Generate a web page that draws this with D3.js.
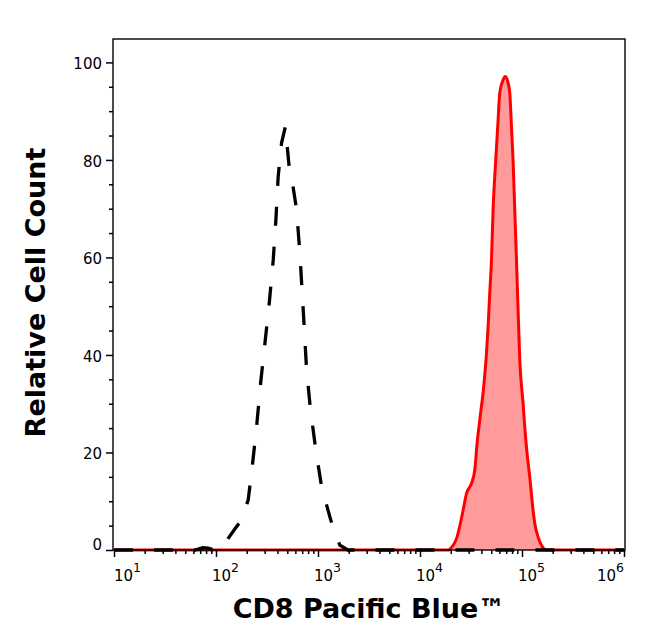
<!DOCTYPE html>
<html>
<head>
<meta charset="utf-8">
<script src="https://cdn.jsdelivr.net/npm/d3@7"></script>
<style>
  html, body { margin: 0; padding: 0; background: #fff; }
  svg { display: block; }
</style>
</head>
<body>
<svg id="chart" width="646" height="641"></svg>
<script>
// ---- data ----
const xTitle = "CD8 Pacific Blue™";
const yTitle = "Relative Cell Count";
const xTickExponents = [1, 2, 3, 4, 5, 6];
const yTickValues = [0, 20, 40, 60, 80, 100];

// Isotype control (black dashed)
const controlX = [10, 62, 74.5, 83.4, 98, 114, 131.8, 153, 178, 207, 228.6, 250, 273.7, 301.7, 332.6, 364, 386.5, 407, 439.5, 478.6, 519, 555, 616.6, 664, 716, 773, 845, 952, 1084, 1307, 1441, 1638, 1962, 1000000];
const controlY = [0, 0, 0.5, 0.4, 0, 0.3, 2.4, 4.3, 6.2, 10.3, 17.8, 25.3, 34.2, 42.4, 50.6, 59.5, 67.7, 76.6, 83.5, 86.8, 79, 76, 69.8, 60.9, 49.3, 36.9, 28.7, 20.5, 13, 6.8, 3.8, 1, 0, 0];

// CD8 stained (red filled)
const stainedX = [10, 19000, 19900, 23100, 26100, 28600, 32000, 34440, 36300, 38550, 41500, 44860, 46500, 48310, 50200, 52060, 55300, 58290, 60500, 65230, 68800, 73030, 75900, 78820, 81700, 84920, 88300, 91500, 95100, 102400, 106400, 112100, 119100, 128300, 133300, 143700, 151600, 173600, 1000000];
const stainedY = [0, 0, 0.3, 2.7, 7.5, 11.6, 13.7, 16.4, 21.9, 26.7, 32.2, 40.4, 45.8, 52.7, 59.5, 69.8, 80, 88.2, 93.7, 96.4, 97.1, 95.8, 93.7, 86.9, 80, 69.8, 59.5, 49.3, 39, 30.1, 25.3, 19.8, 15, 8.2, 5.5, 2.7, 1.4, 0, 0];

// ---- layout ----
const pL = 113, pR = 625, pT = 39, pB = 550;
const svg = d3.select("#chart");

const x = d3.scaleLog().domain([10, 1e6]).range([114, 624]);
const y = d3.scaleLinear().domain([0, 104.8]).range([pB, pT]);

const control = controlX.map((v, i) => ({x: v, y: controlY[i]}));
const stained = stainedX.map((v, i) => ({x: v, y: stainedY[i]}));

svg.append("clipPath").attr("id", "plotclip")
  .append("rect").attr("x", pL).attr("y", pT - 5).attr("width", pR - pL).attr("height", pB - pT + 8);

const plot = svg.append("g").attr("clip-path", "url(#plotclip)");

const area = d3.area().x(d => x(d.x)).y0(y(0)).y1(d => y(d.y)).curve(d3.curveMonotoneX);
const lineM = d3.line().x(d => x(d.x)).y(d => y(d.y)).curve(d3.curveMonotoneX);
const lineL = d3.line().x(d => x(d.x)).y(d => y(d.y)).curve(d3.curveLinear);

plot.append("path").datum(stained).attr("d", area).attr("fill", "#ff9b9b").attr("stroke", "none");
plot.append("path").datum(stained).attr("d", lineM).attr("fill", "none").attr("stroke", "#ff0000").attr("stroke-width", 3).attr("stroke-linejoin", "round");
plot.append("path").datum(control).attr("d", lineL).attr("fill", "none").attr("stroke", "#000")
  .attr("stroke-width", 3.3).attr("stroke-dasharray", "19,21").attr("stroke-linejoin", "miter").attr("stroke-miterlimit", 10);

// ---- frame ----
svg.append("rect").attr("x", pL).attr("y", pT).attr("width", pR - pL).attr("height", pB - pT)
  .attr("fill", "none").attr("stroke", "#000").attr("stroke-width", 1.4);

// ---- y axis ----
const yMinor = d3.range(0, 105, 5).filter(v => v % 20 !== 0);
const yAxis = svg.append("g").attr("transform", `translate(${pL},0)`);
yAxis.call(d3.axisLeft(y).tickValues(yMinor).tickSize(4).tickFormat(""));
yAxis.call(g => g.select(".domain").remove());
const yMaj = svg.append("g").attr("transform", `translate(${pL},0)`)
  .call(d3.axisLeft(y).tickValues(yTickValues).tickSize(7).tickPadding(4));
yMaj.select(".domain").remove();
yMaj.selectAll("text")
  .attr("font-family", "DejaVu Sans, sans-serif").attr("font-size", 15).attr("fill", "#000")
  .attr("x", -11)
  .attr("dy", d => d === 0 ? "-0.05em" : "0.42em");

// ---- x axis ----
const xMinor = [];
for (let e = 1; e < 6; e++) for (let m = 2; m <= 9; m++) xMinor.push(m * Math.pow(10, e));
const xMin = svg.append("g").attr("transform", `translate(0,${pB})`)
  .call(d3.axisBottom(x).tickValues(xMinor).tickSize(4).tickFormat(""));
xMin.select(".domain").remove();
const xMajVals = xTickExponents.map(e => Math.pow(10, e));
const xMaj = svg.append("g").attr("transform", `translate(0,${pB})`)
  .call(d3.axisBottom(x).tickValues(xMajVals).tickSize(7).tickFormat(""));
xMaj.select(".domain").remove();
svg.selectAll("g.tick line").attr("stroke", "#000").attr("stroke-width", 1.5);

const labelW = 31;
xTickExponents.forEach(e => {
  const px = x(Math.pow(10, e));
  let sx = px - 4;
  sx = Math.max(sx, 114);
  sx = Math.min(sx, 628 - labelW);
  const t = svg.append("text").attr("x", sx).attr("y", 581)
    .attr("font-family", "DejaVu Sans, sans-serif").attr("font-size", 15).attr("fill", "#000");
  t.append("tspan").text("10");
  t.append("tspan").attr("font-size", 12.5).attr("dy", -9.5).text(String(e));
});

// ---- titles ----
svg.append("text").attr("x", (pL + pR) / 2).attr("y", 618)
  .attr("text-anchor", "middle")
  .attr("font-family", "DejaVu Sans, sans-serif").attr("font-weight", "bold").attr("font-size", 27)
  .attr("fill", "#000").text(xTitle);

svg.append("text")
  .attr("transform", `translate(45,${(pT + pB) / 2 - 2}) rotate(-90)`)
  .attr("text-anchor", "middle")
  .attr("font-family", "DejaVu Sans, sans-serif").attr("font-weight", "bold").attr("font-size", 27)
  .attr("fill", "#000").text(yTitle);
</script>
</body>
</html>
